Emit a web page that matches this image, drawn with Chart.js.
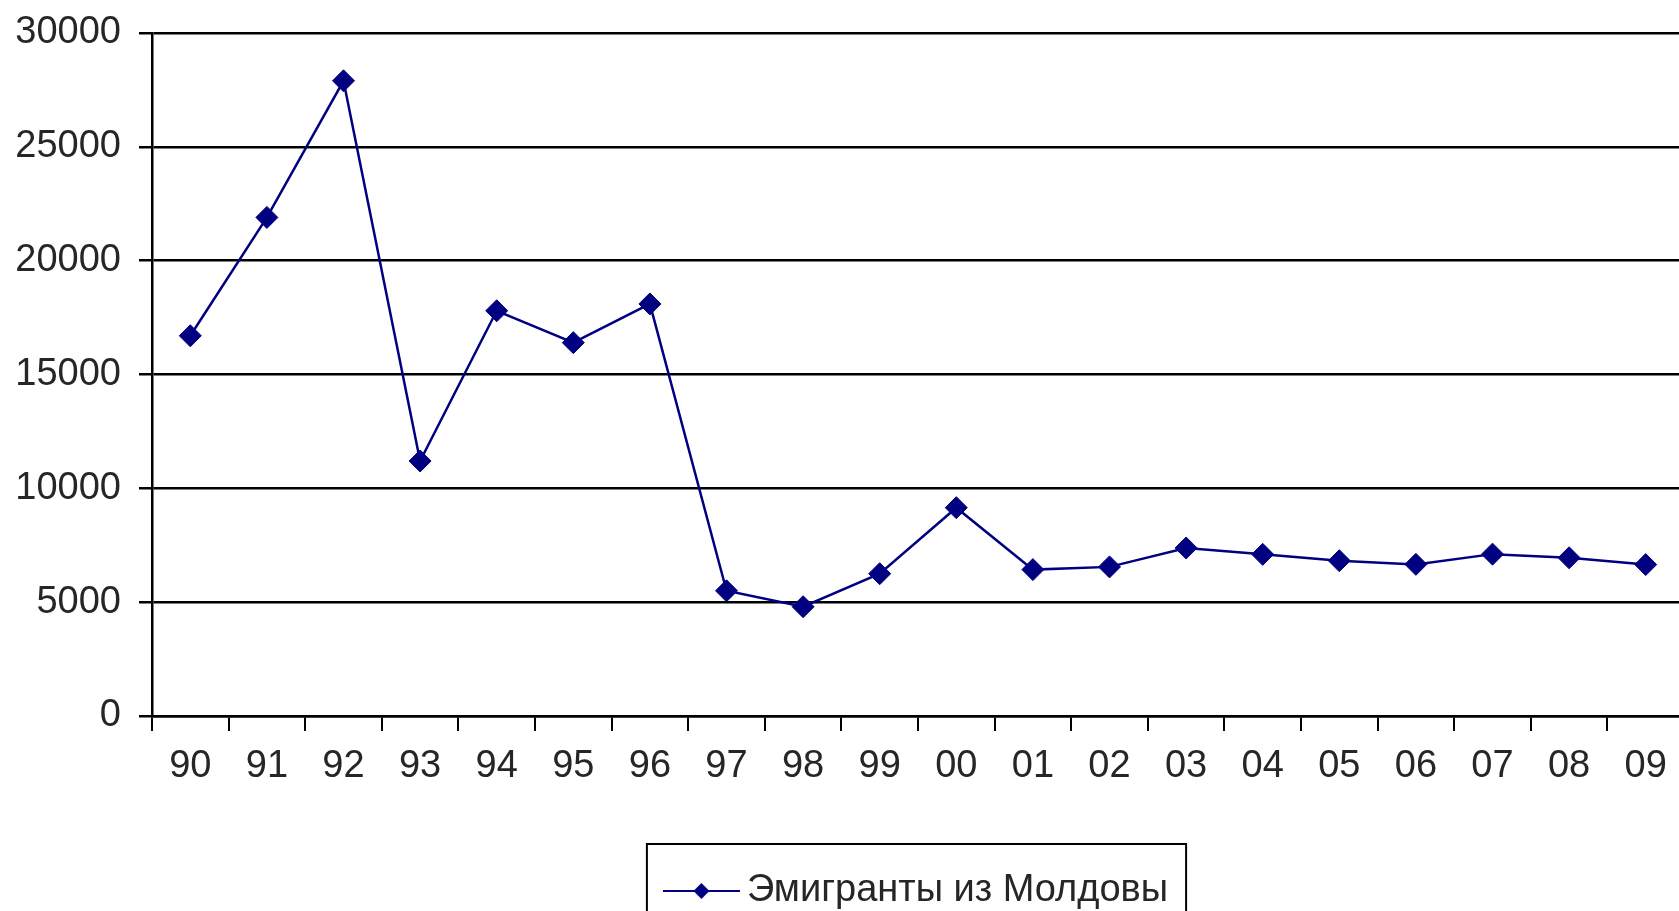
<!DOCTYPE html>
<html>
<head>
<meta charset="utf-8">
<script src="https://cdn.jsdelivr.net/npm/chart.js@4/dist/chart.umd.min.js"></script>
<style>
  html, body { margin: 0; padding: 0; background: #fff; overflow: hidden; }
  #wrap { width: 1696px; height: 920px; position: relative; }
</style>
</head>
<body>
<div id="wrap"><canvas id="emigChart"></canvas></div>
<script>
// Data
const years = ['90', '91', '92', '93', '94', '95', '96', '97', '98', '99',
               '00', '01', '02', '03', '04', '05', '06', '07', '08', '09'];
const emigrants = [16700, 21900, 27900, 11200, 17800, 16400, 18100, 5500, 4800, 6250,
                   9150, 6430, 6550, 7380, 7100, 6820, 6660, 7110, 6950, 6650];
const seriesName = 'Эмигранты из Молдовы';
const yMin = 0;
const yMax = 30000;
const yStep = 5000;

const navy = '#000080';
const ink = '#262626';
const rule = '#000000';

Chart.defaults.font.family = "'Liberation Sans', Arial, sans-serif";
Chart.defaults.font.size = 38;
Chart.defaults.color = ink;

// legend swatch: line with a diamond in the middle
const swatch = document.createElement('canvas');
swatch.width = 96;
swatch.height = 20;
const s = swatch.getContext('2d');
s.strokeStyle = navy;
s.lineWidth = 2;
s.beginPath(); s.moveTo(13, 10); s.lineTo(90, 10); s.stroke();
s.fillStyle = navy;
s.beginPath(); s.moveTo(51.5, 2); s.lineTo(59.5, 10); s.lineTo(51.5, 18); s.lineTo(43.5, 10); s.closePath(); s.fill();

// frame round the legend, like the spreadsheet one
const legendFrame = {
  id: 'legendFrame',
  afterDraw(chart) {
    const lg = chart.legend;
    if (!lg || !lg.legendHitBoxes || !lg.legendHitBoxes.length) return;
    const hb = lg.legendHitBoxes[0];
    const ctx = chart.ctx;
    ctx.save();
    ctx.strokeStyle = rule;
    ctx.lineWidth = 2;
    ctx.strokeRect(hb.left - 21, lg.top - 9, hb.width + 39, lg.height + 40);
    ctx.restore();
  }
};

const ctx = document.getElementById('emigChart').getContext('2d');
const emigChart = new Chart(ctx, {
  type: 'line',
  data: {
    labels: years,
    datasets: [{
      label: seriesName,
      data: emigrants,
      borderColor: navy,
      backgroundColor: navy,
      borderWidth: 2.5,
      tension: 0,
      pointStyle: 'rectRot',
      pointRadius: 11,
      pointBorderWidth: 1,
      pointBackgroundColor: navy,
      pointBorderColor: navy,
      fill: false
    }]
  },
  options: {
    responsive: true,
    maintainAspectRatio: false,
    animation: false,
    layout: { padding: { top: 33, left: 0, right: 0, bottom: 0 } },
    plugins: {
      legend: {
        position: 'bottom',
        fullSize: false,
        labels: {
          usePointStyle: true,
          pointStyle: swatch,
          pointStyleWidth: 60,
          padding: 19,
          color: ink,
          font: { size: 38 }
        }
      },
      tooltip: { enabled: false }
    },
    scales: {
      x: {
        type: 'category',
        offset: true,
        grid: {
          offset: true,
          drawOnChartArea: false,
          drawTicks: true,
          tickLength: 15,
          color: rule,
          lineWidth: 2
        },
        border: { display: true, color: rule, width: 2.5 },
        ticks: { padding: 13, maxRotation: 0, autoSkip: false, color: ink },
        afterFit(scale) {
          scale.height = 137;
          scale.paddingLeft = 0;
          scale.paddingRight = 0;
        }
      },
      y: {
        min: yMin,
        max: yMax,
        grid: {
          color: rule,
          lineWidth: 2.5,
          tickLength: 13
        },
        border: { display: true, color: rule, width: 2.5 },
        ticks: {
          stepSize: yStep,
          padding: 18,
          color: ink,
          callback: (v) => String(v)
        },
        afterFit(scale) {
          scale.width = 152;
          scale.paddingTop = 0;
          scale.paddingBottom = 0;
        }
      }
    }
  },
  plugins: [legendFrame]
});
</script>
</body>
</html>
